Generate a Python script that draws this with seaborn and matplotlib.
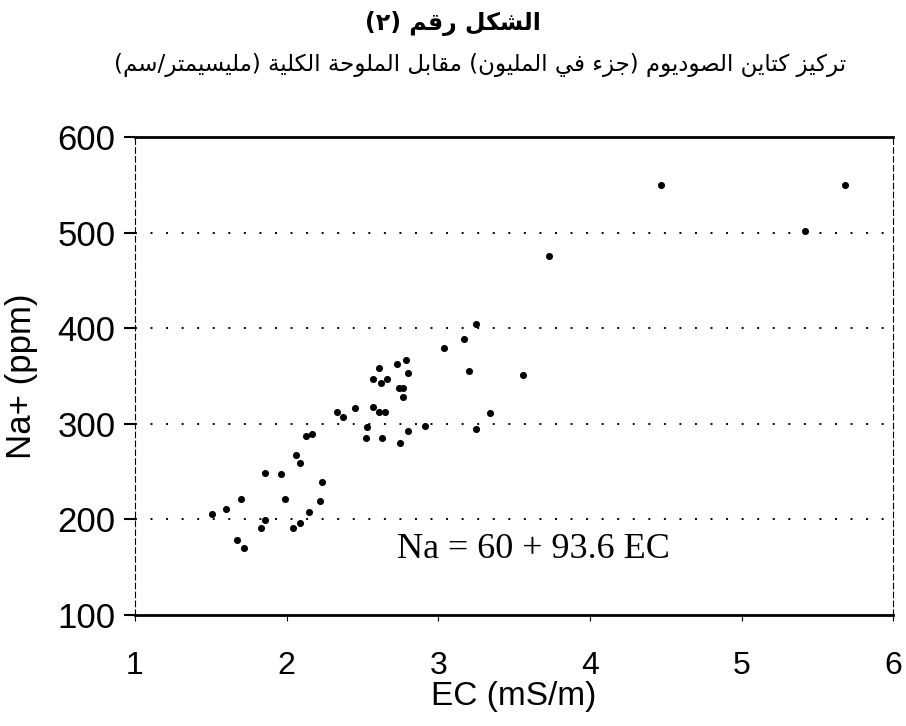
import matplotlib
matplotlib.use("Agg")
import matplotlib.pyplot as plt
import seaborn as sns
import pandas as pd

# data
ec = [1.51, 1.60, 1.70, 1.67, 1.72, 1.83, 1.86, 1.86, 1.96, 1.99,
      2.04, 2.09, 2.15, 2.22, 2.23, 2.06, 2.09, 2.13, 2.17, 2.33,
      2.37, 2.45, 2.57, 2.61, 2.65, 2.53, 2.52, 2.63, 2.75, 2.80,
      2.91, 2.61, 2.57, 2.62, 2.66, 2.73, 2.79, 2.80, 2.74, 2.77,
      2.77, 3.25, 3.17, 3.04, 3.20, 3.56, 3.34, 3.25, 3.73, 4.47,
      5.68, 5.42]
na = [206, 211, 221, 178, 170, 191, 199, 249, 247, 221,
      191, 196, 208, 219, 239, 267, 259, 287, 289, 312,
      307, 317, 318, 312, 312, 297, 285, 285, 280, 293,
      298, 358, 347, 343, 347, 363, 367, 353, 338, 338,
      328, 405, 389, 379, 355, 351, 311, 295, 476, 550,
      550, 502]

x_ticks = [1, 2, 3, 4, 5, 6]
y_ticks = [100, 200, 300, 400, 500, 600]
grid_levels = [200, 300, 400, 500]

title_1 = "الشكل رقم (٢)"
title_2 = "تركيز كتاين الصوديوم (جزء في المليون) مقابل الملوحة الكلية (مليسيمتر/سم)"
equation = "Na = 60 + 93.6 EC"

# matplotlib does no arabic shaping, so pick the presentation forms by hand
# (isolated, final, initial, medial)
FORMS = {
    'ء': ('\uFE80', None, None, None),
    'ا': ('\uFE8D', '\uFE8E', None, None),
    'ب': ('\uFE8F', '\uFE90', '\uFE91', '\uFE92'),
    'ة': ('\uFE93', '\uFE94', None, None),
    'ت': ('\uFE95', '\uFE96', '\uFE97', '\uFE98'),
    'ج': ('\uFE9D', '\uFE9E', '\uFE9F', '\uFEA0'),
    'ح': ('\uFEA1', '\uFEA2', '\uFEA3', '\uFEA4'),
    'د': ('\uFEA9', '\uFEAA', None, None),
    'ر': ('\uFEAD', '\uFEAE', None, None),
    'ز': ('\uFEAF', '\uFEB0', None, None),
    'س': ('\uFEB1', '\uFEB2', '\uFEB3', '\uFEB4'),
    'ش': ('\uFEB5', '\uFEB6', '\uFEB7', '\uFEB8'),
    'ص': ('\uFEB9', '\uFEBA', '\uFEBB', '\uFEBC'),
    'ف': ('\uFED1', '\uFED2', '\uFED3', '\uFED4'),
    'ق': ('\uFED5', '\uFED6', '\uFED7', '\uFED8'),
    'ك': ('\uFED9', '\uFEDA', '\uFEDB', '\uFEDC'),
    'ل': ('\uFEDD', '\uFEDE', '\uFEDF', '\uFEE0'),
    'م': ('\uFEE1', '\uFEE2', '\uFEE3', '\uFEE4'),
    'ن': ('\uFEE5', '\uFEE6', '\uFEE7', '\uFEE8'),
    'و': ('\uFEED', '\uFEEE', None, None),
    'ي': ('\uFEF1', '\uFEF2', '\uFEF3', '\uFEF4'),
}


def shape_rtl(text):
    out = []
    for i, ch in enumerate(text):
        if ch not in FORMS:
            out.append(ch)
            continue
        iso, fin, ini, med = FORMS[ch]
        prev = text[i - 1] if i > 0 else ''
        nxt = text[i + 1] if i + 1 < len(text) else ''
        jp = prev in FORMS and FORMS[prev][2] is not None and fin is not None
        jn = ini is not None and nxt in FORMS and FORMS[nxt][1] is not None
        if jp and jn:
            out.append(med)
        elif jp:
            out.append(fin)
        elif jn:
            out.append(ini)
        else:
            out.append(iso)
    vis = ''.join(out)[::-1]
    return vis.translate(str.maketrans('()', ')('))


df = pd.DataFrame({"EC": ec, "Na": na})

sns.set_style("white")
plt.rcParams['font.family'] = ['Liberation Sans', 'DejaVu Sans']
plt.rcParams['text.color'] = 'black'
plt.rcParams['axes.labelcolor'] = 'black'
plt.rcParams['xtick.color'] = 'black'
plt.rcParams['ytick.color'] = 'black'

fig = plt.figure(figsize=(9.06, 7.26), dpi=100)
ax = fig.add_axes([0.149, 0.153, 0.837, 0.658])

sns.scatterplot(data=df, x="EC", y="Na", ax=ax, color="black", s=26,
                linewidth=0, marker="o")

for lv in grid_levels:
    ax.axhline(lv, color="black", lw=1.4, ls=(0, (1, 7)), zorder=0)

ax.set_xlim(1, 6)
ax.set_ylim(100, 600)
ax.set_xticks(x_ticks)
ax.set_yticks(y_ticks)
ax.set_xticklabels([str(t) for t in x_ticks])
ax.set_yticklabels([str(t) for t in y_ticks])
ax.tick_params(axis="x", labelsize=23, length=4, pad=22, direction="out",
               bottom=True, width=0.8)
ax.tick_params(axis="y", labelsize=25, length=8, pad=6, direction="out",
               left=True, width=1.5)

for side in ["top", "bottom"]:
    ax.spines[side].set_linewidth(2)
    ax.spines[side].set_color("black")
for side in ["left", "right"]:
    ax.spines[side].set_linewidth(0.8)
    ax.spines[side].set_color("black")
    ax.spines[side].set_linestyle((0, (5, 3)))

ax.set_xlabel("EC (mS/m)", fontsize=24, labelpad=0)
ax.set_ylabel("Na+ (ppm)", fontsize=25, labelpad=14)

ax.text(3.63, 168, equation, fontsize=26, family="Liberation Serif",
        ha="center", va="center")

fig.text(0.5, 0.968, shape_rtl(title_1), fontsize=17, family="DejaVu Sans",
         fontweight="bold", ha="center", va="center")
fig.text(0.53, 0.910, shape_rtl(title_2), fontsize=16.5, family="DejaVu Sans",
         ha="center", va="center")

fig.savefig("out.png", dpi=100)
